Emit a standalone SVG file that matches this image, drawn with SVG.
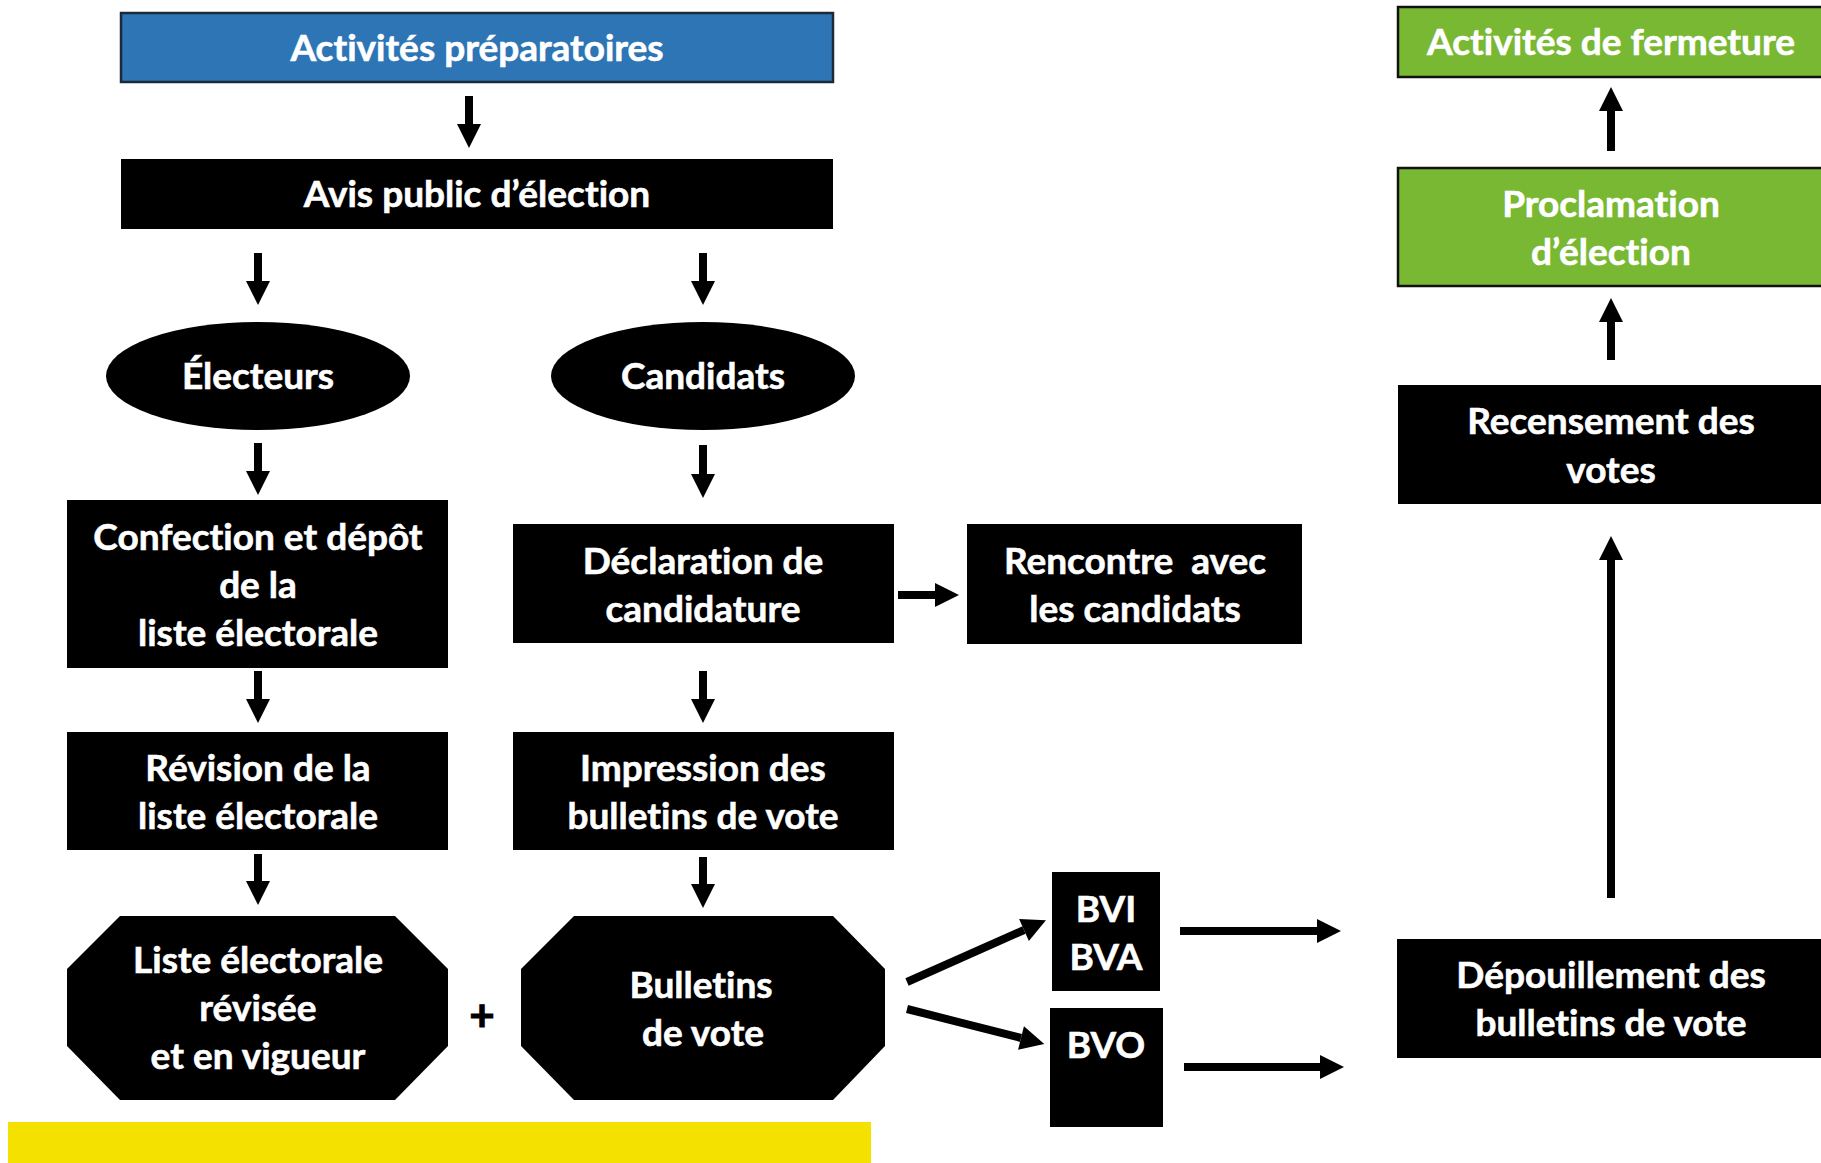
<svg xmlns="http://www.w3.org/2000/svg" width="1821" height="1163" viewBox="0 0 1821 1163">
<style>
  .t { font-family: Lato, "Open Sans", "Liberation Sans", sans-serif; font-weight: 700; font-size: 37px; fill: #ffffff; stroke: #ffffff; stroke-width: 0.6; text-anchor: middle; font-variant-ligatures: none; font-feature-settings: "liga" 0, "dlig" 0; }
  .blk { fill: #000000; }
  .c { stroke: #000000; stroke-width: 8; fill: none; marker-end: url(#ah); }
</style>
<defs>
  <marker id="ah" markerUnits="userSpaceOnUse" markerWidth="24" markerHeight="24" refX="0" refY="11.5" orient="auto" viewBox="0 0 23 23" overflow="visible">
    <path d="M0,0 L23,11.5 L0,23 Z" fill="#000000"/>
  </marker>
</defs>
<rect width="1821" height="1163" fill="#ffffff"/>

<g id="activites-preparatoires">
  <rect x="121" y="13" width="712" height="69" fill="#2E75B6" stroke="#1c2a38" stroke-width="2.5"/>
  <text class="t" x="477" y="61">Activités préparatoires</text>
</g>
<g id="avis-public">
  <rect class="blk" x="121" y="159" width="712" height="70"/>
  <text class="t" x="477" y="207">Avis public d’élection</text>
</g>
<g id="electeurs">
  <ellipse class="blk" cx="258" cy="376" rx="152" ry="54"/>
  <text class="t" x="258" y="389">Électeurs</text>
</g>
<g id="candidats">
  <ellipse class="blk" cx="703" cy="376" rx="152" ry="54"/>
  <text class="t" x="703" y="389">Candidats</text>
</g>
<g id="confection">
  <rect class="blk" x="67" y="500" width="381" height="168"/>
  <text class="t" x="258" y="550">Confection et dépôt</text>
  <text class="t" x="258" y="598">de la</text>
  <text class="t" x="258" y="646">liste électorale</text>
</g>
<g id="declaration">
  <rect class="blk" x="513" y="524" width="381" height="119"/>
  <text class="t" x="703" y="574">Déclaration de</text>
  <text class="t" x="703" y="622">candidature</text>
</g>
<g id="rencontre">
  <rect class="blk" x="967" y="524" width="335" height="120"/>
  <text class="t" x="1135" y="574" xml:space="preserve">Rencontre  avec</text>
  <text class="t" x="1135" y="622">les candidats</text>
</g>
<g id="revision">
  <rect class="blk" x="67" y="732" width="381" height="118"/>
  <text class="t" x="258" y="781">Révision de la</text>
  <text class="t" x="258" y="829">liste électorale</text>
</g>
<g id="impression">
  <rect class="blk" x="513" y="732" width="381" height="118"/>
  <text class="t" x="703" y="781">Impression des</text>
  <text class="t" x="703" y="829">bulletins de vote</text>
</g>
<g id="liste-revisee">
  <polygon class="blk" points="120,916 395,916 448,969 448,1046 395,1100 120,1100 67,1046 67,969"/>
  <text class="t" x="258" y="973">Liste électorale</text>
  <text class="t" x="258" y="1021">révisée</text>
  <text class="t" x="258" y="1069">et en vigueur</text>
</g>
<g id="plus">
  <text class="t" x="482" y="1031" style="fill:#000000;stroke:#000000;stroke-width:1;font-size:44px">+</text>
</g>
<g id="bulletins">
  <polygon class="blk" points="574,916 833,916 885,969 885,1046 833,1100 574,1100 521,1046 521,969"/>
  <text class="t" x="701" y="998">Bulletins</text>
  <text class="t" x="703" y="1046">de vote</text>
</g>
<g id="bvi-bva">
  <rect class="blk" x="1052" y="872" width="108" height="119"/>
  <text class="t" x="1106" y="922">BVI</text>
  <text class="t" x="1106" y="970">BVA</text>
</g>
<g id="bvo">
  <rect class="blk" x="1050" y="1008" width="113" height="119"/>
  <text class="t" x="1106" y="1058">BVO</text>
</g>
<g id="depouillement">
  <rect class="blk" x="1397" y="939" width="430" height="119"/>
  <text class="t" x="1611" y="988">Dépouillement des</text>
  <text class="t" x="1611" y="1036">bulletins de vote</text>
</g>
<g id="recensement">
  <rect class="blk" x="1398" y="385" width="430" height="119"/>
  <text class="t" x="1611" y="434">Recensement des</text>
  <text class="t" x="1611" y="483">votes</text>
</g>
<g id="proclamation">
  <rect x="1398" y="168" width="430" height="118" fill="#78B833" stroke="#111111" stroke-width="2.5"/>
  <text class="t" x="1611" y="217">Proclamation</text>
  <text class="t" x="1611" y="265">d’élection</text>
</g>
<g id="activites-fermeture">
  <rect x="1398" y="7" width="430" height="70" fill="#78B833" stroke="#111111" stroke-width="2.5"/>
  <text class="t" x="1611" y="55">Activités de fermeture</text>
</g>
<g id="bande-jaune">
  <rect x="8" y="1122" width="863" height="45" fill="#F5E100"/>
</g>

<g id="connectors">
  <line class="c" x1="469" y1="96" x2="469" y2="124"/>
  <line class="c" x1="258" y1="253" x2="258" y2="281"/>
  <line class="c" x1="703" y1="253" x2="703" y2="281"/>
  <line class="c" x1="258" y1="443" x2="258" y2="471"/>
  <line class="c" x1="703" y1="445" x2="703" y2="474"/>
  <line class="c" x1="898" y1="595" x2="935" y2="595"/>
  <line class="c" x1="258" y1="671" x2="258" y2="699"/>
  <line class="c" x1="703" y1="671" x2="703" y2="699"/>
  <line class="c" x1="258" y1="854" x2="258" y2="881"/>
  <line class="c" x1="703" y1="857" x2="703" y2="884"/>
  <line class="c" x1="907" y1="982" x2="1024" y2="930"/>
  <line class="c" x1="907" y1="1009" x2="1021" y2="1038"/>
  <line class="c" x1="1180" y1="931" x2="1317" y2="931"/>
  <line class="c" x1="1184" y1="1067" x2="1320" y2="1067"/>
  <line class="c" x1="1611" y1="898" x2="1611" y2="560"/>
  <line class="c" x1="1611" y1="360" x2="1611" y2="322"/>
  <line class="c" x1="1611" y1="151" x2="1611" y2="111"/>
</g>
</svg>
